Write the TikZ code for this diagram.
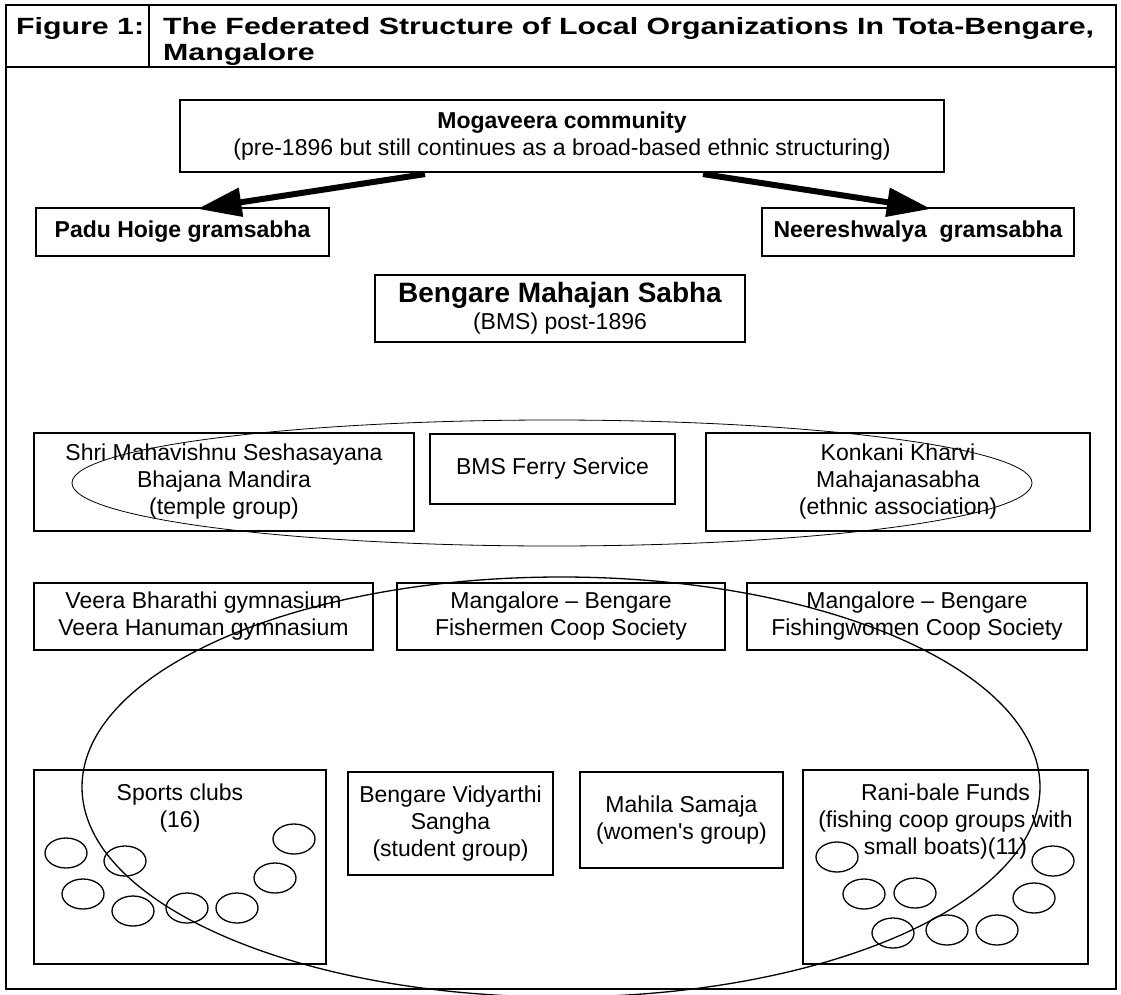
\documentclass[tikz,border=0pt]{standalone}
\usepackage{fontspec}
\setmainfont{Liberation Sans}
\newfontfamily\headfont{Liberation Sans}[FakeStretch=1.29]
\usetikzlibrary{arrows.meta}
\begin{document}
\begin{tikzpicture}[x=1pt,y=-1pt,
  box/.style={draw, line width=2.2pt, align=center, inner sep=0pt, font=\fontsize{23}{27}\selectfont},
  boldbox/.style={box, font=\bfseries\fontsize{23}{27}\selectfont},
  txt/.style={align=center, inner sep=0pt, font=\fontsize{23}{27}\selectfont},
  head/.style={inner sep=0pt, font=\headfont\bfseries\fontsize{23.5}{26}\selectfont},
  ring/.style={line width=0.8pt},
  bigring/.style={line width=1.3pt},
  dot/.style={line width=1.3pt, x radius=21pt, y radius=15pt},
  bigarrow/.style={line width=6pt, -{Triangle[length=44pt,width=28pt]}},
]
\useasboundingbox (0,0) rectangle (1121,995);
% frame and header
\draw[line width=1.6pt] (6,5) rectangle (1116,989);
\draw[line width=2.5pt] (6,67) -- (1116,67);
\draw[line width=1.6pt] (149,5) -- (149,67);
\node[head, anchor=base west] (fig) at (16,34.5) {Figure 1:};
\node[head, anchor=north west, align=left] (title) at (163,17.3) {The Federated Structure of Local Organizations In Tota-Bengare,\\Mangalore};

% top level
\node[box, minimum width=764pt, minimum height=72pt] (mog) at (562,136)
  {\textbf{Mogaveera community}\\(pre-1896 but still continues as a broad-based ethnic structuring)};
\node[boldbox, minimum width=293pt, minimum height=48pt] (padu) at (182.5,232) {Padu Hoige gramsabha};
\node[boldbox, minimum width=312pt, minimum height=48pt] (neer) at (918,232) {Neereshwalya\ \ gramsabha};
\draw[bigarrow] ([xshift=-137pt, yshift=-1pt]mog.south) -- ([xshift=15pt, yshift=-2pt]padu.north);
\draw[bigarrow] ([xshift=141pt, yshift=-1pt]mog.south) -- ([xshift=13pt, yshift=-2pt]neer.north);

\node[box, minimum width=370pt, minimum height=67pt] (bms) at (560,308.5)
  {{\bfseries\fontsize{28}{30}\selectfont Bengare Mahajan Sabha}\\(BMS) post-1896};

% second row
\draw[ring] (552,483) ellipse [x radius=480pt, y radius=63pt];
\node[box, minimum width=380pt, minimum height=98pt] (shri) at (224,482)
  {Shri Mahavishnu Seshasayana\\Bhajana Mandira\\(temple group)};
\node[box, minimum width=245pt, minimum height=70pt] (ferry) at (552.5,469) {BMS Ferry Service};
\node[box, minimum width=384pt, minimum height=98pt] (konk) at (898,482)
  {Konkani Kharvi\\Mahajanasabha\\(ethnic association)};

% third row
\node[box, minimum width=339pt, minimum height=67pt] (veera) at (203.5,616.5)
  {Veera Bharathi gymnasium\\Veera Hanuman gymnasium};
\node[box, minimum width=328pt, minimum height=67pt] (fishm) at (561,616.5)
  {Mangalore -- Bengare\\Fishermen Coop Society};
\node[box, minimum width=340pt, minimum height=67pt] (fishw) at (917,616.5)
  {Mangalore -- Bengare\\Fishingwomen Coop Society};

% big ellipse
\draw[bigring] (561,787) ellipse [x radius=479pt, y radius=210pt];

% fourth row
\node[box, minimum width=292pt, minimum height=194pt] (sports) at (180,867) {};
\node[txt, anchor=north] (sportst) at ([yshift=-15pt]sports.north) {Sports clubs\\(16)};
\node[box, minimum width=205pt, minimum height=103pt] (vidy) at (450.5,823.5)
  {Bengare Vidyarthi\\Sangha\\(student group)};
\node[box, minimum width=203pt, minimum height=96pt] (mahila) at (681.5,820)
  {Mahila Samaja\\(women\textquotesingle s group)};
\node[box, minimum width=285pt, minimum height=194pt] (rani) at (945.5,867) {};
\node[txt, anchor=north] (ranit) at ([yshift=-15pt]rani.north) {Rani-bale Funds\\(fishing coop groups with\\small boats)(11)};

% small circles
\foreach \p in {(66,853),(125,861),(83,894),(133,911),(187,908),(237,908),(275,878),(294,839),
                (837,857),(864,894),(915,893),(893,933),(947,930),(997,930),(1034,898),(1053,861)}
  \draw[dot] \p ellipse [];
\end{tikzpicture}
\end{document}
